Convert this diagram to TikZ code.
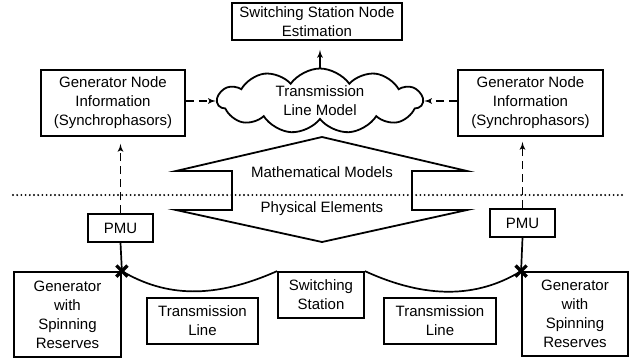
\documentclass[tikz,border=0pt]{standalone}
\usepackage{fontspec}
\setmainfont{Liberation Sans}
\usetikzlibrary{positioning, shapes, arrows}

\begin{document}
\begin{tikzpicture}[
		x=1pt, y=-1pt,
		font=\fontsize{15}{19}\selectfont,
		box/.style={rectangle, draw, line width=1.8pt, align=center, inner sep=0pt},
		link/.style={draw, line width=1.7pt},
		dashlink/.style={draw, line width=1.7pt, dash pattern=on 8pt off 5pt, -latex'},
		joint/.style={cross out, draw, line width=3.2pt, minimum size=8pt, inner sep=0pt}
		]
		\useasboundingbox (0,0) rectangle (641,362);
		
		% Mathematical models (top)
		\node[box, minimum width=170pt, minimum height=37pt] (ssne) at (317,21.5) {Switching Station Node\\Estimation};
		\node[cloud, draw, line width=1.8pt, cloud puffs=11, cloud puff arc=110, aspect=3.2,
			minimum width=205pt, minimum height=65pt, inner sep=0pt, align=center] (tlm) at (320,101) {Transmission\\Line Model};
		\node[box, minimum width=144pt, minimum height=66pt] (infoL) at (113,103) {Generator Node\\Information\\(Synchrophasors)};
		\node[box, minimum width=145pt, minimum height=66pt] (infoR) at (530.5,103) {Generator Node\\Information\\(Synchrophasors)};
		
		% Boundary between models and elements
		\coordinate (sepL) at (13,195);
		\coordinate (sepR) at (625,195);
		\draw[line width=2.1pt, line cap=round, dash pattern=on 0pt off 4.2pt] (sepL) -- (sepR);
		
		% Double arrow
		\draw[line width=1.8pt] (176,171) -- (322,137) -- (467,171) -- (412,171) -- (412,210) -- (467,210)
			-- (322,242) -- (176,210) -- (232,210) -- (232,171) -- cycle;
		\node (mm) at (322,172) {Mathematical Models};
		\node (pe) at (322,209) {Physical Elements};
		
		% Physical elements (bottom)
		\node[box, minimum width=65pt, minimum height=28pt] (pmuL) at (120.5,228) {PMU};
		\node[box, minimum width=65pt, minimum height=28pt] (pmuR) at (522.5,223) {PMU};
		\node[box, minimum width=107pt, minimum height=85pt] (genL) at (67.5,314.5) {Generator\\with\\Spinning\\Reserves};
		\node[box, minimum width=106pt, minimum height=84pt] (genR) at (575,314) {Generator\\with\\Spinning\\Reserves};
		\node[box, minimum width=111pt, minimum height=46pt] (lineL) at (202.5,321) {Transmission\\Line};
		\node[box, minimum width=112pt, minimum height=46pt] (lineR) at (440,321) {Transmission\\Line};
		\node[box, minimum width=86pt, minimum height=46pt] (ss) at (321,295) {Switching\\Station};
		
		% Connection points
		\node[joint] (xL) at (genL.north east) {};
		\node[joint] (xR) at (genR.north west) {};
		
		% Connections
		\path[link] (pmuL.south) -- (xL.center);
		\path[link] (pmuR.south) -- (xR.center);
		\path[link] (xL.center) .. controls +(44,26) and +(-63,28) .. (ss.north west);
		\path[link] (ss.north east) .. controls +(61,28) and +(-44,27) .. (xR.center);
		
		\path[dashlink, shorten >=7pt] (pmuL.north) -- (pmuL.north |- infoL.south);
		\path[dashlink, shorten >=5pt] (pmuR.north) -- (pmuR.north |- infoR.south);
		\path[dashlink] (infoL.east |- tlm.west) -- (tlm.west);
		\path[dashlink] (infoR.west |- tlm.east) -- (tlm.east);
		\path[link, -latex', shorten >=9pt] (tlm.north) -- (tlm.north |- ssne.south);
		
	\end{tikzpicture}
\end{document}
